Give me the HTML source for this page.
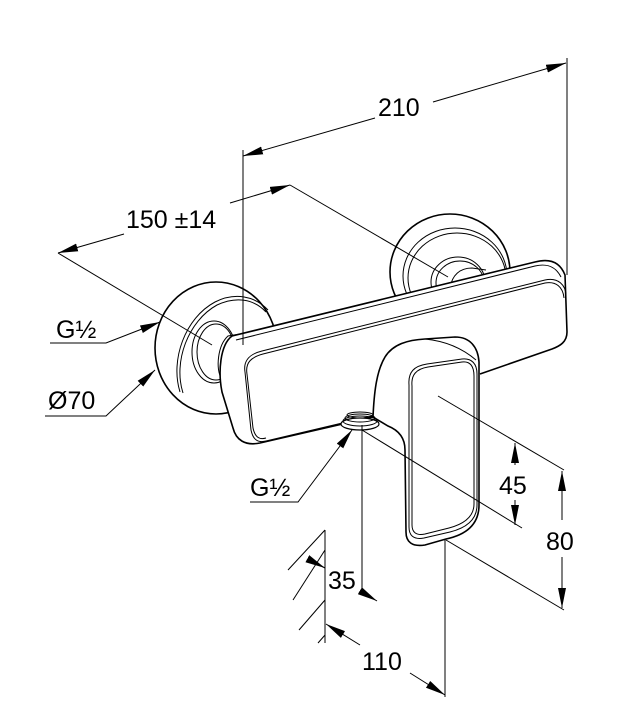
<!DOCTYPE html>
<html><head><style>
html,body{margin:0;padding:0;background:#fff;}
svg{display:block;}
text{font-family:"Liberation Sans",sans-serif;font-size:25px;fill:#000;}
</style></head><body>
<svg width="632" height="727" viewBox="0 0 632 727" xmlns="http://www.w3.org/2000/svg">
<defs>
<marker id="b" viewBox="0 0 20 8" refX="20" refY="4" markerWidth="20" markerHeight="8" markerUnits="userSpaceOnUse" orient="auto-start-reverse"><path d="M0,0 L20,4 L0,8 Z" fill="#000"/></marker>
</defs>
<g fill="none" stroke="#000" stroke-width="1">
<!-- right flange -->
<ellipse cx="450" cy="272" rx="60" ry="58" fill="#fff" stroke-width="1.6"/>
<ellipse cx="455" cy="276" rx="52" ry="48"/>
<ellipse cx="457" cy="278" rx="49" ry="45"/>
<ellipse cx="458" cy="282" rx="27" ry="25"/>
<ellipse cx="460" cy="283" rx="24" ry="22"/>
<path d="M450,288 C452,275 460,268 472,268 L486,270"/>
<!-- left flange -->
<path d="M175,318 C168,320 163,326 160,334" stroke-width="1.4"/>
<ellipse cx="216" cy="348" rx="61" ry="66" fill="#fff" stroke-width="1.6"/>
<path d="M180,392 C170,360 185,318 215,302 C235,292 255,296 268,310"/>
<path d="M183,393 C173,362 188,321 217,305 C236,296 254,299 266,312"/>
<ellipse cx="214" cy="352" rx="22" ry="31"/>
<ellipse cx="216" cy="352" rx="19" ry="28"/>
<path d="M222,380 C215,368 218,345 228,336 L240,334"/>
<!-- body -->
<path d="M232,336 L535,262 C550,258 560,262 565,275 L567,332 C567,342 560,346 552,349 L480,374 L480,380 L405,440 L373,417 L260,443 C245,446 236,440 233,428 L222,392 C218,372 220,345 232,336 Z" fill="#fff" stroke="none"/>
<path d="M232,336 L535,262 C550,258 560,262 565,275 L567,332 C567,342 560,346 552,349 L480,374" stroke-width="1.6"/>
<path d="M373,417 L260,443 C245,446 236,440 233,428 L222,392 C218,372 220,345 232,336" stroke-width="1.6"/>
<path d="M236,340 L535,266 C548,263 556,267 561,277"/>
<path d="M245,372 C243,360 250,354 262,351 L545,280 C558,277 566,285 566,296"/>
<path d="M247,374 C245,362 252,357 263,354 L545,283 C556,281 563,287 564,298"/>
<path d="M245,372 L251,430 C253,440 258,443 266,441 L372,416"/>
<path d="M247,374 L253,428 C255,437 259,440 266,438"/>
<!-- lever -->
<path d="M373,417 C374,395 376,372 385,357 C393,344 408,340 425,339 L455,337 C470,337 478,347 479,362 L479,505 C479,525 465,535 446,539 L425,545 C412,547 406,542 406,532 L405,450 C405,437 398,430 388,426 Z" fill="#fff" stroke-width="1.6"/>
<path d="M409,385 C408,372 414,366 427,364 L462,359 C472,358 477,364 477,374 L477,505 C477,520 466,528 450,532 L424,538 C413,540 409,535 409,527 Z"/>
<path d="M412,386 C411,375 416,369 428,367 L462,362 C470,361 474,366 474,376 L474,504 C474,517 464,524 449,528 L425,534 C416,536 412,532 412,525 Z"/>
<path d="M425,339 C445,341 462,348 476,360"/>
<!-- outlet thread -->
<ellipse cx="360" cy="424" rx="19" ry="6" fill="#fff" stroke-width="1.2"/>
<ellipse cx="360" cy="421" rx="17" ry="5"/>
<ellipse cx="360" cy="418" rx="15" ry="4"/>
<ellipse cx="360" cy="415" rx="13" ry="3"/>
</g>
<g fill="none" stroke="#000" stroke-width="1">
<line x1="243" y1="150" x2="243" y2="345"/>
<line x1="567" y1="58" x2="567" y2="275"/>
<line x1="243" y1="156" x2="375" y2="118" marker-start="url(#b)"/>
<line x1="433" y1="102" x2="566" y2="63" marker-end="url(#b)"/>
<line x1="58" y1="253" x2="212" y2="345"/>
<line x1="290" y1="185" x2="448" y2="277"/>
<line x1="58" y1="253" x2="124" y2="234" marker-start="url(#b)"/>
<line x1="230" y1="203" x2="290" y2="185" marker-end="url(#b)"/>
<polyline points="50,343 106,343 160,322" marker-end="url(#b)"/>
<polyline points="45,416 106,416 155,370" marker-end="url(#b)"/>
<polyline points="250,502 298,502 352,430" marker-end="url(#b)"/>
<line x1="438" y1="396" x2="564" y2="470"/>
<line x1="362" y1="430" x2="522" y2="528"/>
<line x1="446" y1="540" x2="564" y2="610"/>
<line x1="515" y1="465" x2="515" y2="443" marker-end="url(#b)"/>
<line x1="515" y1="500" x2="515" y2="525" marker-end="url(#b)"/>
<line x1="562" y1="520" x2="562" y2="471" marker-end="url(#b)"/>
<line x1="562" y1="557" x2="562" y2="608" marker-end="url(#b)"/>
<line x1="325" y1="530" x2="325" y2="643"/>
<line x1="325" y1="530" x2="288" y2="570"/>
<line x1="325" y1="550" x2="293" y2="600"/>
<line x1="325" y1="600" x2="299" y2="630"/>
<line x1="325" y1="635" x2="318" y2="643"/>
<line x1="308" y1="559" x2="325" y2="568" marker-end="url(#b)"/>
<line x1="362" y1="425" x2="362" y2="592"/>
<line x1="362" y1="592" x2="377" y2="601" marker-end="url(#b)"/>
<line x1="360" y1="645" x2="326" y2="624" marker-end="url(#b)"/>
<line x1="410" y1="673" x2="445" y2="695" marker-end="url(#b)"/>
<line x1="445" y1="540" x2="445" y2="697"/>
</g>
<text x="378" y="116">210</text>
<text x="126" y="228">150 ±14</text>
<text x="56" y="338">G½</text>
<text x="48" y="409">Ø70</text>
<text x="250" y="496">G½</text>
<text x="499" y="494">45</text>
<text x="546" y="550">80</text>
<text x="328" y="589">35</text>
<text x="362" y="670">110</text>
</svg>
</body></html>
